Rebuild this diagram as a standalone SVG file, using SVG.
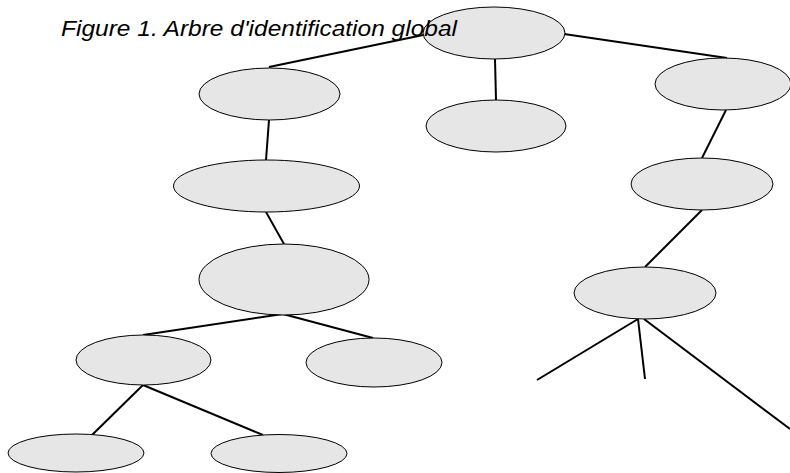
<svg xmlns="http://www.w3.org/2000/svg" width="790" height="473" viewBox="0 0 790 473">
<style>
.n{fill:#e6e6e6;stroke:#000;stroke-width:1}
.c line{stroke:#000;stroke-width:2;stroke-linecap:butt}
.t{font-family:"Liberation Sans",Arial,sans-serif;font-style:italic;font-size:22px;fill:#000}
</style>
<rect width="790" height="473" fill="#fff"/>
<g class="c" id="connectors">
<line x1="269" y1="67" x2="428" y2="34"/>
<line x1="495" y1="59" x2="496" y2="100"/>
<line x1="564" y1="34" x2="727" y2="58"/>
<line x1="269" y1="120" x2="266" y2="160"/>
<line x1="266" y1="212" x2="284" y2="244"/>
<line x1="726" y1="110" x2="702" y2="158"/>
<line x1="702" y1="210" x2="645" y2="267"/>
<line x1="283" y1="314" x2="143" y2="335"/>
<line x1="283" y1="314" x2="373" y2="338"/>
<line x1="143" y1="385" x2="92" y2="435"/>
<line x1="143" y1="385" x2="263" y2="435"/>
<line x1="638" y1="319" x2="537" y2="380"/>
<line x1="638" y1="319" x2="645" y2="379"/>
<line x1="644" y1="319" x2="790" y2="429"/>
</g>
<g id="n1"><ellipse class="n" cx="494" cy="33" rx="71" ry="26"/></g>
<g id="n2"><ellipse class="n" cx="269.5" cy="94" rx="70.5" ry="26"/></g>
<g id="n3"><ellipse class="n" cx="496" cy="126" rx="70" ry="26"/></g>
<g id="n4"><ellipse class="n" cx="723" cy="84" rx="68" ry="26"/></g>
<g id="n5"><ellipse class="n" cx="266.5" cy="186" rx="93" ry="26"/></g>
<g id="n6"><ellipse class="n" cx="702" cy="184" rx="71" ry="26"/></g>
<g id="n7"><ellipse class="n" cx="284" cy="279.5" rx="85" ry="35.5"/></g>
<g id="n8"><ellipse class="n" cx="645" cy="293" rx="71" ry="26"/></g>
<g id="n9"><ellipse class="n" cx="143.5" cy="360" rx="67.5" ry="25"/></g>
<g id="n10"><ellipse class="n" cx="374" cy="362.5" rx="68" ry="24.5"/></g>
<g id="n11"><ellipse class="n" cx="76" cy="453" rx="68" ry="19"/></g>
<g id="n12"><ellipse class="n" cx="279" cy="453.5" rx="68" ry="19"/></g>
<g id="title"><text class="t" x="61" y="36" textLength="396" lengthAdjust="spacingAndGlyphs">Figure 1. Arbre d'identification global</text></g>
</svg>
